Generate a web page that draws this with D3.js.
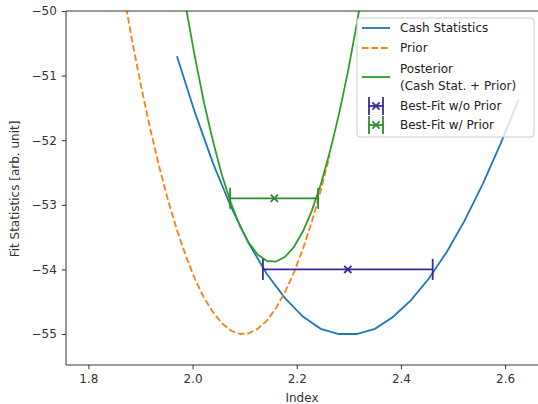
<!DOCTYPE html>
<html>
<head>
<meta charset="utf-8">
<script src="https://cdn.jsdelivr.net/npm/d3@7"></script>
<style>
  body { margin: 0; background: #fff; }
  text { font-family: "DejaVu Sans", sans-serif; }
</style>
</head>
<body>
<script>
// sample grid of the fit scan
let index = [1.970, 2.0045, 2.039, 2.0736, 2.108, 2.1426, 2.177, 2.2117, 2.246, 2.2807,
             2.315, 2.350, 2.384, 2.419, 2.453, 2.488, 2.522, 2.557, 2.591, 2.626];
let cash = [-50.70, -51.57, -52.35, -53.03, -53.60, -54.07, -54.44, -54.73, -54.92, -55.00,
            -55.00, -54.92, -54.74, -54.48, -54.15, -53.73, -53.25, -52.68, -52.06, -51.37];
let posteriorIndex = [1.970, 1.987, 2.004, 2.022, 2.039, 2.056, 2.074, 2.091, 2.108, 2.125, 2.143,
                      2.160, 2.177, 2.194, 2.212, 2.229, 2.246, 2.263, 2.281, 2.298, 2.315, 2.332];
let posterior = [-49.08, -49.93, -50.69, -51.42, -52.01, -52.53, -52.98, -53.33, -53.59, -53.77, -53.87,
                 -53.88, -53.81, -53.66, -53.41, -53.09, -52.69, -52.20, -51.60, -50.95, -50.21, -49.39];
let priorIndex = [1.866, 1.884, 1.901, 1.918, 1.936, 1.953, 1.970, 1.987, 2.004, 2.022, 2.039, 2.056,
                  2.074, 2.091, 2.108, 2.125, 2.143, 2.160, 2.177, 2.194, 2.212, 2.229, 2.246, 2.263];
let prior = [-49.66, -50.46, -51.16, -51.80, -52.41, -52.93, -53.39, -53.79, -54.14, -54.44, -54.66, -54.83,
             -54.95, -55.00, -54.99, -54.92, -54.79, -54.60, -54.36, -54.06, -53.68, -53.26, -52.78, -52.24];

// best-fit points with x error ranges
let bestFit = [
    { name: "Best-Fit w/o Prior", x: 2.298, y: -54.0, lo: 2.135, hi: 2.461, color: "#3a2b9c" },
    { name: "Best-Fit w/ Prior", x: 2.157, y: -52.9, lo: 2.072, hi: 2.241, color: "#2f8a34" }
];
let xTicks = [1.8, 2.0, 2.2, 2.4, 2.6];
let yTicks = [-55, -54, -53, -52, -51, -50];

let w = 538, h = 404;
let pLeft = 66, pTop = 11, pRight = 540, pBottom = 365;
let fs = 12, lw = 1.8;

let xScale = d3.scaleLinear().domain([1.757, 2.667]).range([pLeft, pRight]);
let yScale = d3.scaleLinear().domain([-55.48, -50]).range([pBottom, pTop]);

let svg = d3.select("body")
    .append("svg")
    .attr("width", w)
    .attr("height", h);

svg.append("defs").append("clipPath")
    .attr("id", "plotArea")
    .append("rect")
    .attr("x", pLeft).attr("y", pTop)
    .attr("width", pRight - pLeft).attr("height", pBottom - pTop);

let plot = svg.append("g").attr("clip-path", "url(#plotArea)");

let line = d3.line()
    .x(d => xScale(d[0]))
    .y(d => yScale(d[1]));

plot.append("path")
    .datum(d3.zip(index, cash))
    .attr("d", line)
    .attr("fill", "none")
    .attr("stroke", "#1f77b4")
    .attr("stroke-width", lw);

plot.append("path")
    .datum(d3.zip(priorIndex, prior))
    .attr("d", line)
    .attr("fill", "none")
    .attr("stroke", "#ff7f0e")
    .attr("stroke-width", lw)
    .attr("stroke-dasharray", "6.6,2.9");

plot.append("path")
    .datum(d3.zip(posteriorIndex, posterior))
    .attr("d", line)
    .attr("fill", "none")
    .attr("stroke", "#2ca02c")
    .attr("stroke-width", lw);

// error bars
let capH = 10.5, mk = 3.6;
bestFit.forEach(b => {
    let g = plot.append("g").attr("stroke", b.color).attr("stroke-width", lw).attr("fill", "none");
    let cy = yScale(b.y);
    g.append("line")
        .attr("x1", xScale(b.lo)).attr("x2", xScale(b.hi))
        .attr("y1", cy).attr("y2", cy);
    [b.lo, b.hi].forEach(v => {
        g.append("line")
            .attr("x1", xScale(v)).attr("x2", xScale(v))
            .attr("y1", cy - capH).attr("y2", cy + capH);
    });
    let cx = xScale(b.x);
    g.append("path")
        .attr("d", `M${cx - mk},${cy - mk}L${cx + mk},${cy + mk}M${cx - mk},${cy + mk}L${cx + mk},${cy - mk}`);
});

// axes
let xAxis = svg.append("g")
    .attr("transform", "translate(0," + pBottom + ")")
    .call(d3.axisBottom(xScale).tickValues(xTicks).tickFormat(d3.format(".1f"))
        .tickSize(4.2).tickPadding(5));
let yAxis = svg.append("g")
    .attr("transform", "translate(" + pLeft + ",0)")
    .call(d3.axisLeft(yScale).tickValues(yTicks).tickFormat(d => "\u2212" + Math.abs(d))
        .tickSize(4.2).tickPadding(5));
[xAxis, yAxis].forEach(a => {
    a.select(".domain").remove();
    a.selectAll("line").attr("stroke", "#333").attr("stroke-width", 1);
    a.selectAll("text").attr("font-size", fs).attr("fill", "#333")
        .attr("font-family", "DejaVu Sans");
});

// spines
svg.append("line").attr("x1", pLeft).attr("x2", pRight).attr("y1", pTop).attr("y2", pTop)
    .attr("stroke", "#333").attr("stroke-width", 1);
svg.append("line").attr("x1", pLeft).attr("x2", pRight).attr("y1", pBottom).attr("y2", pBottom)
    .attr("stroke", "#333").attr("stroke-width", 1);
svg.append("line").attr("x1", pLeft).attr("x2", pLeft).attr("y1", pTop).attr("y2", pBottom)
    .attr("stroke", "#333").attr("stroke-width", 1);

svg.append("text")
    .attr("x", 302).attr("y", 402)
    .attr("text-anchor", "middle")
    .attr("font-size", fs).attr("fill", "#333")
    .text("Index");
svg.append("text")
    .attr("transform", "translate(19,189) rotate(-90)")
    .attr("text-anchor", "middle")
    .attr("font-size", fs).attr("fill", "#333")
    .text("Fit Statistics [arb. unit]");

// legend
let lg = svg.append("g");
lg.append("rect")
    .attr("x", 357).attr("y", 18).attr("width", 177).attr("height", 119)
    .attr("rx", 3)
    .attr("fill", "#fff").attr("fill-opacity", 0.8)
    .attr("stroke", "#ccc").attr("stroke-width", 1);

let hx0 = 362, hx1 = 390, tx = 400;
let rows = [
    { y: 28, color: "#1f77b4", dash: null, label: ["Cash Statistics"] },
    { y: 48, color: "#ff7f0e", dash: "6.6,2.9", label: ["Prior"] },
    { y: 77, color: "#2ca02c", dash: null, label: ["Posterior", "(Cash Stat. + Prior)"] }
];
rows.forEach(r => {
    lg.append("line")
        .attr("x1", hx0).attr("x2", hx1).attr("y1", r.y).attr("y2", r.y)
        .attr("stroke", r.color).attr("stroke-width", lw)
        .attr("stroke-dasharray", r.dash);
    let t = lg.append("text")
        .attr("x", tx).attr("y", r.y - (r.label.length - 1) * 8.5 + 4.3)
        .attr("font-size", fs).attr("fill", "#222");
    r.label.forEach((s, i) => {
        t.append("tspan").attr("x", tx).attr("dy", i === 0 ? 0 : 17).text(s);
    });
});
let ebRows = [106, 125];
bestFit.forEach((b, i) => {
    let cy = ebRows[i], cx = (hx0 + hx1) / 2;
    let g = lg.append("g").attr("stroke", b.color).attr("stroke-width", lw).attr("fill", "none");
    g.append("line").attr("x1", cx - 7).attr("x2", cx + 7).attr("y1", cy).attr("y2", cy);
    [cx - 7, cx + 7].forEach(v => {
        g.append("line").attr("x1", v).attr("x2", v).attr("y1", cy - 9).attr("y2", cy + 9);
    });
    g.append("path")
        .attr("d", `M${cx - mk},${cy - mk}L${cx + mk},${cy + mk}M${cx - mk},${cy + mk}L${cx + mk},${cy - mk}`);
    lg.append("text")
        .attr("x", tx).attr("y", cy + 4.3)
        .attr("font-size", fs).attr("fill", "#222")
        .text(b.name);
});
</script>
</body>
</html>
